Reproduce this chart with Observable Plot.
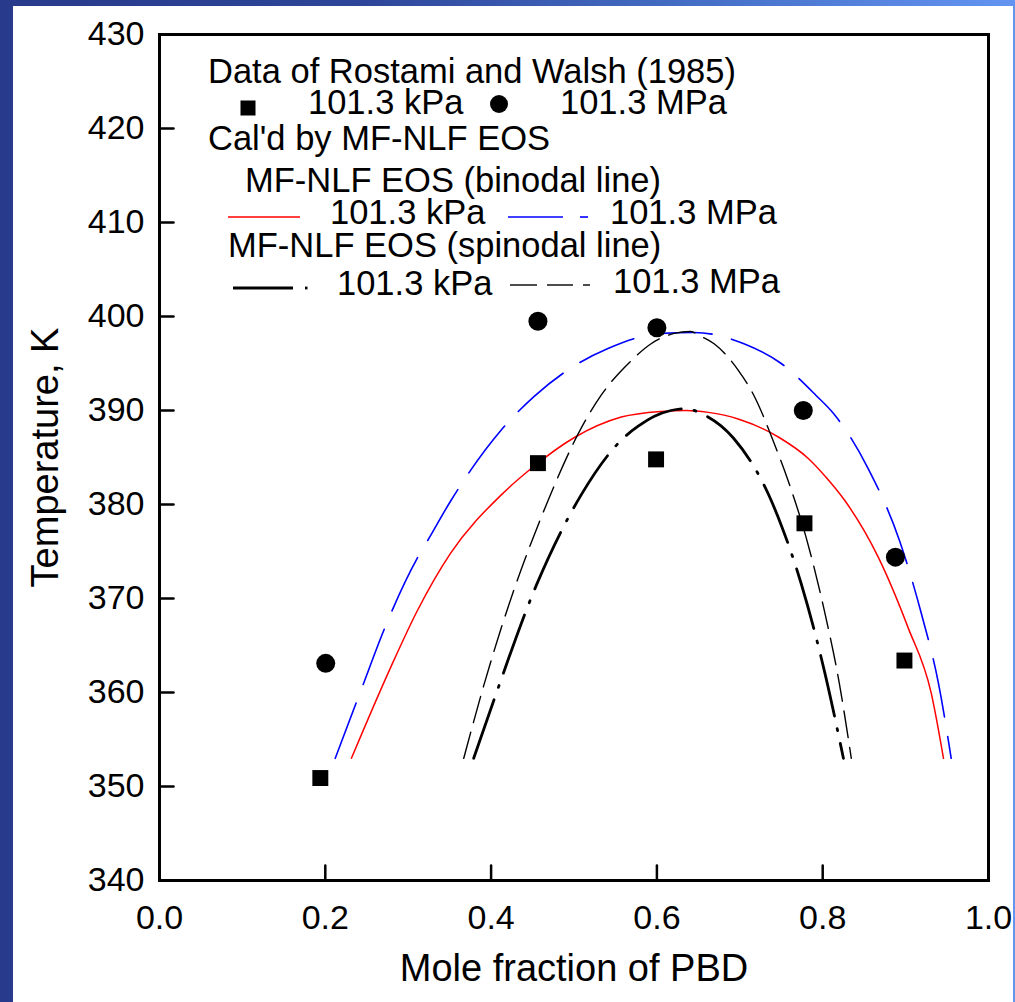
<!DOCTYPE html>
<html>
<head>
<meta charset="utf-8">
<script src="https://cdn.jsdelivr.net/npm/d3@7"></script>
<script src="https://cdn.jsdelivr.net/npm/@observablehq/plot@0.6"></script>
<style>
  html, body { margin: 0; padding: 0; }
  body {
    width: 1015px; height: 1002px; overflow: hidden; position: relative;
    background: linear-gradient(90deg, #283a8c 0%, #2d4598 35%, #4670c8 70%, #6394f2 100%);
    font-family: "Liberation Sans", Arial, sans-serif;
  }
  #paper { position: absolute; left: 13px; top: 6px; width: 1000px; height: 996px; background: #fff; }
  #chart, #legend { position: absolute; left: 0; top: 0; }
</style>
</head>
<body>
<div id="paper"></div>
<div id="chart"></div>
<svg id="legend" width="1015" height="1002"></svg>
<script>
// ---- data ----
const xTickValues = [0.0, 0.2, 0.4, 0.6, 0.8, 1.0];
const yTickValues = [340, 350, 360, 370, 380, 390, 400, 410, 420, 430];
const xLabel = "Mole fraction of PBD";
const yLabel = "Temperature, K";

// experimental data (Rostami and Walsh, 1985): [mole fraction, T]
const expKpa = [[0.194, 350.9], [0.4565, 384.4], [0.599, 384.8], [0.778, 378.0], [0.8986, 363.4]];
const expMpa = [[0.2005, 363.1], [0.4565, 399.5], [0.600, 398.8], [0.7766, 390.0], [0.8877, 374.4]];

// binodal lines
const binodalKpa = [[0.2315, 353], [0.279, 362.7], [0.311, 368.7], [0.351, 374.8], [0.412, 381.0], [0.448, 383.8],
  [0.5, 387.1], [0.557, 389.3], [0.605, 389.9], [0.635, 390.0], [0.662, 389.8], [0.698, 389.1], [0.748, 387.1],
  [0.7826, 384.9], [0.804, 382.9], [0.826, 380.5], [0.867, 374.4], [0.903, 366.9], [0.931, 359.9], [0.9457, 353]];
const binodalMpa = [[0.212, 353], [0.245, 360.7], [0.2705, 366.6], [0.311, 374.3], [0.3237, 376.2], [0.3514, 380.4],
  [0.412, 387.9], [0.452, 391.5], [0.505, 395.0], [0.541, 396.6], [0.605, 398.2], [0.645, 398.3], [0.705, 397.1],
  [0.75, 395.0], [0.792, 391.6], [0.8128, 389.7], [0.855, 383.8], [0.8925, 376.2], [0.919, 368.4], [0.9396, 361], [0.955, 353]];

// spinodal lines
const spinodalKpa = [[0.379, 353], [0.403, 359.1], [0.455, 371.5], [0.5085, 381.0], [0.560, 387.1], [0.577, 388.3],
  [0.597, 389.4], [0.617, 390.0], [0.635, 390.2], [0.653, 389.7], [0.692, 387.1], [0.7355, 380.9], [0.75, 377.8],
  [0.774, 371.6], [0.802, 362.3], [0.825, 353]];
const spinodalMpa = [[0.367, 353], [0.391, 360.7], [0.412, 366.8], [0.4686, 380.4], [0.5085, 388.1], [0.5326, 391.6],
  [0.569, 395.3], [0.593, 397.1], [0.621, 398.2], [0.64, 398.4], [0.653, 397.9], [0.669, 397.1], [0.698, 394.3],
  [0.717, 391.6], [0.7415, 386.5], [0.758, 382.6], [0.780, 376.5], [0.802, 368.7], [0.820, 361], [0.8345, 353]];

// legend texts
const legendTitles = ["Data of Rostami and Walsh (1985)", "Cal'd by MF-NLF EOS", "MF-NLF EOS (binodal line)", "MF-NLF EOS (spinodal line)"];
const seriesNames = ["101.3 kPa", "101.3 MPa"];

// ---- chart ----
const FONT = "'Liberation Sans', Arial, sans-serif";
const tickLine = {draw(ctx, l) { ctx.moveTo(0, 0); ctx.lineTo(0, -l); }};
const CURVE = "monotone-x";

const chart = Plot.plot({
  width: 1015, height: 1002,
  marginLeft: 159, marginRight: 27, marginTop: 34, marginBottom: 122,
  x: {domain: [0, 1]},
  y: {domain: [340, 430]},
  style: {background: "transparent", fontFamily: FONT, color: "black", overflow: "visible"},
  marks: [
    Plot.axisY({ticks: yTickValues, tickSize: 0, tickPadding: 15, fontSize: 34, label: null}),
    Plot.axisX({ticks: xTickValues, tickSize: 0, tickPadding: 24, fontSize: 34, label: null, tickFormat: d3.format(".1f")}),
    Plot.vector(yTickValues, {y: d => d, frameAnchor: "left", length: 14, rotate: 90, anchor: "start", shape: tickLine, stroke: "black", strokeWidth: 2.5}),
    Plot.vector(xTickValues, {x: d => d, frameAnchor: "bottom", length: 15, rotate: 0, anchor: "start", shape: tickLine, stroke: "black", strokeWidth: 2.5}),
    Plot.text([yLabel], {frameAnchor: "left", dx: -114, rotate: -90, text: d => d, fontSize: 38, textAnchor: "middle", lineAnchor: "middle", fill: "black"}),
    Plot.text([xLabel], {frameAnchor: "bottom", dy: 88, text: d => d, fontSize: 38, textAnchor: "middle", lineAnchor: "middle", fill: "black"}),
    Plot.line(binodalKpa, {x: d => d[0], y: d => d[1], stroke: "#ff0000", strokeWidth: 1.5, curve: CURVE}),
    Plot.line(binodalMpa, {x: d => d[0], y: d => d[1], stroke: "#0000ff", strokeWidth: 1.6, strokeDasharray: "59,20", curve: CURVE}),
    Plot.line(spinodalKpa, {x: d => d[0], y: d => d[1], stroke: "black", strokeWidth: 2.8, strokeDasharray: "62,13,2,13", curve: CURVE}),
    Plot.line(spinodalMpa, {x: d => d[0], y: d => d[1], stroke: "black", strokeWidth: 1.4, strokeDasharray: "27,10", curve: CURVE}),
    Plot.dot(expKpa, {x: d => d[0], y: d => d[1], symbol: "square", r: 9, fill: "black"}),
    Plot.dot(expMpa, {x: d => d[0], y: d => d[1], symbol: "circle", r: 9.5, fill: "black"}),
    Plot.frame({stroke: "black", strokeWidth: 3})
  ]
});
document.getElementById("chart").appendChild(chart);

// ---- legend (overlay) ----
const lg = d3.select("#legend").attr("font-family", FONT).attr("font-size", 34.5);
const legendText = [
  {t: legendTitles[0], x: 208, y: 83},
  {t: seriesNames[0], x: 308, y: 114},
  {t: seriesNames[1], x: 560, y: 114},
  {t: legendTitles[1], x: 208, y: 150},
  {t: legendTitles[2], x: 245, y: 192},
  {t: seriesNames[0], x: 330, y: 224},
  {t: seriesNames[1], x: 610, y: 224},
  {t: legendTitles[3], x: 228, y: 257},
  {t: seriesNames[0], x: 337, y: 295},
  {t: seriesNames[1], x: 613, y: 293}
];
lg.selectAll("text").data(legendText).join("text")
  .attr("x", d => d.x).attr("y", d => d.y).text(d => d.t).attr("fill", "black");
lg.append("rect").attr("x", 240.5).attr("y", 100.5).attr("width", 15).attr("height", 15).attr("fill", "black");
lg.append("circle").attr("cx", 499).attr("cy", 104).attr("r", 9).attr("fill", "black");
const segs = [
  {x1: 228, x2: 300, y: 217, c: "#ff0000", w: 1.5},
  {x1: 508, x2: 563, y: 217, c: "#0000ff", w: 1.6},
  {x1: 580, x2: 588, y: 217, c: "#0000ff", w: 1.6},
  {x1: 233, x2: 293, y: 288, c: "black", w: 2.8},
  {x1: 305, x2: 307.5, y: 288, c: "black", w: 2.8},
  {x1: 510, x2: 537, y: 285, c: "black", w: 1.4},
  {x1: 547, x2: 573, y: 285, c: "black", w: 1.4},
  {x1: 583, x2: 590, y: 285, c: "black", w: 1.4}
];
lg.selectAll("line").data(segs).join("line")
  .attr("x1", d => d.x1).attr("x2", d => d.x2).attr("y1", d => d.y).attr("y2", d => d.y)
  .attr("stroke", d => d.c).attr("stroke-width", d => d.w);
</script>
</body>
</html>
